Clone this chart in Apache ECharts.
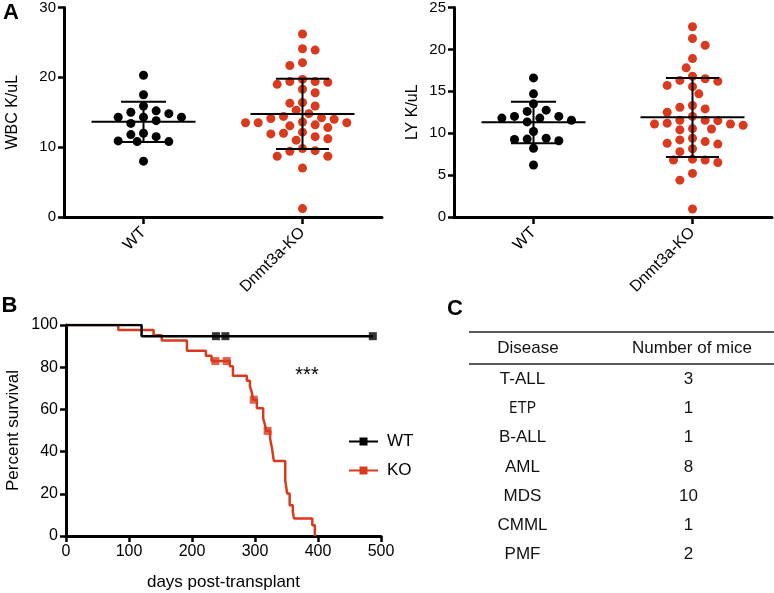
<!DOCTYPE html>
<html><head><meta charset="utf-8">
<script src="https://cdn.jsdelivr.net/npm/echarts@6/dist/echarts.min.js"></script>
<style>html,body{margin:0;padding:0;background:#fff}#c{width:774px;height:593px}</style>
</head><body><div id="c"></div>
<script>
// ---------- DATA ----------
const groups = ['WT', 'Dnmt3a-KO'];
const wbcTicks = [0, 10, 20, 30];
const lyTicks = [0, 5, 10, 15, 20, 25];
const kmYTicks = [0, 20, 40, 60, 80, 100];
const kmXTicks = [0, 100, 200, 300, 400, 500];

const wbcWT = [20.3, 17.5, 15.9, 15.0, 15.2, 14.8, 14.3, 14.3, 14.3, 13.4, 13.8, 12.0, 11.8, 11.5, 10.8, 10.8, 10.9, 8.0];
const wbcKO = [26.2, 24.1, 23.9, 22.1, 21.7, 19.4, 19.0, 19.7, 19.3, 19.4, 17.8, 18.3, 16.3, 16.4, 15.9, 15.3, 14.8, 14.1, 14.0, 14.2, 14.4, 13.5, 13.5, 13.5, 13.6, 13.05, 12.8, 13.2, 12.15, 11.9, 12.0, 11.2, 11.5, 11.0, 9.8, 9.5, 9.4, 8.7, 8.7, 7.0, 1.2];
const wbcMean = [13.65, 14.75];
const wbcSdLow = [10.75, 9.75];
const wbcSdHigh = [16.5, 19.8];

const lyWT = [16.6, 14.7, 13.5, 12.75, 12.6, 12.0, 12.0, 11.8, 11.8, 11.55, 11.35, 10.2, 9.3, 9.1, 9.25, 9.4, 8.2, 6.2];
const lyKO = [22.7, 21.3, 20.5, 18.9, 17.8, 16.8, 16.3, 16.2, 16.5, 15.7, 15.55, 14.7, 13.1, 13.3, 12.5, 12.9, 12.0, 11.55, 11.55, 11.2, 11.1, 11.1, 11.5, 10.55, 10.4, 10.5, 10.95, 9.4, 9.0, 9.2, 8.7, 8.15, 8.8, 7.8, 6.8, 6.5, 6.8, 6.9, 5.2, 4.4, 0.95];
const lyMean = [11.3, 11.9];
const lySdLow = [8.8, 7.15];
const lySdHigh = [13.75, 16.6];

// Kaplan-Meier: event days and survival (%) after each event
const wtDays = [0, 120];
const wtSurv = [100, 94.7];
const wtCensor = [238, 253, 487];
const koDays = [0, 83, 139, 152, 192, 222, 231, 260, 265, 287, 292, 295, 297, 303, 313, 316, 318, 324, 327, 330, 348, 351, 355, 360, 362, 391, 395];
const koSurv = [100, 97.6, 95.1, 92.7, 87.8, 85.4, 82.9, 80.4, 76.0, 73.6, 70.9, 67.9, 64.6, 60.5, 55.7, 52.5, 49.8, 46.2, 41.5, 35.5, 26.4, 20.1, 14.6, 11.4, 8.3, 5.1, 0];
const koCensor = [237, 255, 298, 320];

const tableHeader = ['Disease', 'Number of mice'];
const diseases = ['T-ALL', 'ETP', 'B-ALL', 'AML', 'MDS', 'CMML', 'PMF'];
const mice = [3, 1, 1, 8, 10, 1, 2];

// ---------- STYLE ----------
const FONT = '"Liberation Sans", Arial, Helvetica, sans-serif';
const RED = '#d93a1e';
const BLACK = '#000';

const chart = echarts.init(document.getElementById('c'), null, {renderer: 'canvas'});

function yAxisCfg(grid, ticks, name, gap, fs) {
  return {
    type: 'value', gridIndex: grid,
    min: ticks[0], max: ticks[ticks.length - 1], interval: ticks[1] - ticks[0],
    name: name, nameLocation: 'middle', nameGap: gap,
    nameTextStyle: {fontFamily: FONT, fontSize: fs + 1, color: BLACK},
    axisLine: {show: true, lineStyle: {color: BLACK, width: 3}},
    axisTick: {show: true, length: 6, lineStyle: {color: BLACK, width: 2.5}},
    axisLabel: {fontFamily: FONT, fontSize: fs, color: BLACK, margin: 8},
    splitLine: {show: false}
  };
}
function catAxisCfg(grid) {
  return {
    type: 'category', gridIndex: grid, data: groups, boundaryGap: true,
    axisLine: {show: true, lineStyle: {color: BLACK, width: 3}},
    axisTick: {show: true, alignWithLabel: true, length: 7, lineStyle: {color: BLACK, width: 2.5}},
    axisLabel: {fontFamily: FONT, fontSize: 16, color: BLACK, rotate: 45, margin: 13, interval: 0},
    splitLine: {show: false}
  };
}
function hiddenX(grid) {
  return {type: 'value', gridIndex: grid, min: 0, max: 2, show: false};
}

const base = {
  animation: false,
  backgroundColor: '#fff',
  grid: [
    {left: 64, top: 7, width: 318, height: 210},
    {left: 454, top: 7, width: 318, height: 210},
    {left: 66, top: 325, width: 315, height: 211}
  ],
  xAxis: [
    catAxisCfg(0), hiddenX(0), catAxisCfg(1), hiddenX(1),
    {
      type: 'value', gridIndex: 2,
      min: kmXTicks[0], max: kmXTicks[kmXTicks.length - 1], interval: kmXTicks[1] - kmXTicks[0],
      name: 'days post-transplant', nameLocation: 'middle', nameGap: 38,
      nameTextStyle: {fontFamily: FONT, fontSize: 17, color: BLACK},
      axisLine: {show: true, lineStyle: {color: BLACK, width: 3}},
      axisTick: {show: true, length: 6, lineStyle: {color: BLACK, width: 2.5}},
      axisLabel: {fontFamily: FONT, fontSize: 16, color: BLACK, margin: 8},
      splitLine: {show: false}
    }
  ],
  yAxis: [
    yAxisCfg(0, wbcTicks, 'WBC K/uL', 43, 15),
    yAxisCfg(1, lyTicks, 'LY K/uL', 33, 15),
    yAxisCfg(2, kmYTicks, 'Percent survival', 44, 16)
  ],
  series: []
};
chart.setOption(base);

// beeswarm layout computed from values via the axis scales
function swarm(values, catIdx, xAxisIndex, yAxisIndex) {
  const cx = chart.convertToPixel({xAxisIndex: xAxisIndex}, catIdx + 0.5);
  const step = 6.33, minD = 9.4;
  const pts = values.map(v => ({v: v, y: chart.convertToPixel({yAxisIndex: yAxisIndex}, v)}))
    .sort((a, b) => b.v - a.v);
  const placed = [];
  let flip = 1;
  pts.forEach(p => {
    for (let k = 0; k < 60; k++) {
      const cands = k === 0 ? [0] : [flip * k, -flip * k];
      let got = null;
      for (const c of cands) {
        const x = c * step;
        if (placed.every(q => Math.hypot(q.x - x, q.y - p.y) >= minD)) { got = x; break; }
      }
      if (got !== null) {
        p.x = got; if (got !== 0) flip = -flip; placed.push(p); break;
      }
    }
  });
  return placed.map(p => [chart.convertFromPixel({xAxisIndex: xAxisIndex}, cx + p.x), p.v]);
}

function dotSeries(values, catIdx, xi, yi, color) {
  return {
    type: 'scatter', xAxisIndex: xi, yAxisIndex: yi,
    data: swarm(values, catIdx, xi, yi),
    symbol: 'circle', symbolSize: 9,
    itemStyle: {color: color, opacity: 1},
    z: 2, silent: true
  };
}

const capHalf = [22.5, 26.5];
function errSeries(mean, lo, hi, xi, yi) {
  return {
    type: 'custom', xAxisIndex: xi, yAxisIndex: yi, z: 5, silent: true,
    data: mean.map((m, i) => [i + 0.5, m, lo[i], hi[i]]),
    renderItem: function (params, api) {
      const x = api.value(0);
      const pm = api.coord([x, api.value(1)]);
      const pl = api.coord([x, api.value(2)]);
      const ph = api.coord([x, api.value(3)]);
      const c = capHalf[params.dataIndex];
      const st = {stroke: BLACK, lineWidth: 2};
      return {type: 'group', children: [
        {type: 'line', shape: {x1: pm[0] - 52, y1: pm[1], x2: pm[0] + 52, y2: pm[1]}, style: st},
        {type: 'line', shape: {x1: ph[0], y1: ph[1], x2: pl[0], y2: pl[1]}, style: st},
        {type: 'line', shape: {x1: ph[0] - c, y1: ph[1], x2: ph[0] + c, y2: ph[1]}, style: st},
        {type: 'line', shape: {x1: pl[0] - c, y1: pl[1], x2: pl[0] + c, y2: pl[1]}, style: st}
      ]};
    }
  };
}

function kmLine(days, surv, censor) {
  const d = days.map((t, i) => [t, surv[i]]);
  const lastC = Math.max.apply(null, censor);
  if (lastC > days[days.length - 1]) d.push([lastC, surv[surv.length - 1]]);
  return d;
}
function survAt(days, surv, t) {
  let s = surv[0];
  for (let i = 0; i < days.length; i++) if (days[i] <= t) s = surv[i];
  return s;
}

const kmSeries = [
  {name: 'WT', type: 'line', step: 'end', xAxisIndex: 4, yAxisIndex: 2,
   data: kmLine(wtDays, wtSurv, wtCensor), showSymbol: false, symbol: 'rect', symbolSize: 8,
   lineStyle: {color: BLACK, width: 2.5}, itemStyle: {color: BLACK}, z: 4, silent: true},
  {name: 'KO', type: 'line', step: 'end', xAxisIndex: 4, yAxisIndex: 2,
   data: kmLine(koDays, koSurv, koCensor), showSymbol: false, symbol: 'rect', symbolSize: 8,
   lineStyle: {color: RED, width: 2.5}, itemStyle: {color: RED}, z: 3, silent: true},
  {name: 'WT', type: 'scatter', xAxisIndex: 4, yAxisIndex: 2, symbol: 'rect', symbolSize: 8,
   data: wtCensor.map(t => [t, survAt(wtDays, wtSurv, t)]), itemStyle: {color: BLACK}, z: 6, silent: true},
  {name: 'KO', type: 'scatter', xAxisIndex: 4, yAxisIndex: 2, symbol: 'rect', symbolSize: 8,
   data: koCensor.map(t => [t, survAt(koDays, koSurv, t)]), itemStyle: {color: RED}, z: 6, silent: true}
];

// table graphics
const tableG = [];
const tLeft = 469, tRight = 774;
tableG.push({type: 'line', shape: {x1: tLeft, y1: 332, x2: tRight, y2: 332}, style: {stroke: '#222', lineWidth: 1.6}});
tableG.push({type: 'line', shape: {x1: tLeft, y1: 364, x2: tRight, y2: 364}, style: {stroke: '#222', lineWidth: 1.6}});
const colX = [528, 692];
tableHeader.forEach((h, i) => tableG.push({type: 'text', x: colX[i], y: 348,
  style: {text: h, fontFamily: FONT, fontSize: 17, fill: '#111', textAlign: 'center', textVerticalAlign: 'middle'}}));
diseases.forEach((d, i) => {
  const y = 379.3 + i * 29.2;
  const special = d === 'ETP';
  tableG.push({type: 'text', x: 522.5, y: y,
    style: {text: d, fontFamily: special ? '"Open Sans", "Noto Sans", sans-serif' : FONT, fontSize: special ? 16 : 17,
      fill: '#111', textAlign: 'center', textVerticalAlign: 'middle'}});
  tableG.push({type: 'text', x: 688.5, y: y,
    style: {text: String(mice[i]), fontFamily: FONT, fontSize: 17, fill: '#111', textAlign: 'center', textVerticalAlign: 'middle'}});
});

const labels = [
  {type: 'text', x: 11, y: 13, style: {text: 'A', fontFamily: FONT, fontWeight: 'bold', fontSize: 22, fill: BLACK, textAlign: 'center', textVerticalAlign: 'middle'}},
  {type: 'text', x: 9.5, y: 306, style: {text: 'B', fontFamily: FONT, fontWeight: 'bold', fontSize: 22, fill: BLACK, textAlign: 'center', textVerticalAlign: 'middle'}},
  {type: 'text', x: 455, y: 308.5, style: {text: 'C', fontFamily: FONT, fontWeight: 'bold', fontSize: 22, fill: BLACK, textAlign: 'center', textVerticalAlign: 'middle'}},
  {type: 'text', x: 307, y: 375, style: {text: '***', fontFamily: FONT, fontSize: 20, fill: BLACK, textAlign: 'center', textVerticalAlign: 'middle'}}
];

chart.setOption({
  legend: {
    data: ['WT', 'KO'], orient: 'vertical', left: 343, top: 428,
    itemWidth: 29, itemHeight: 10, itemGap: 12, selectedMode: false,
    textStyle: {fontFamily: FONT, fontSize: 17, color: BLACK, padding: [0, 0, 0, 4]}
  },
  series: [
    dotSeries(wbcWT, 0, 1, 0, BLACK), dotSeries(wbcKO, 1, 1, 0, RED),
    errSeries(wbcMean, wbcSdLow, wbcSdHigh, 1, 0),
    dotSeries(lyWT, 0, 3, 1, BLACK), dotSeries(lyKO, 1, 3, 1, RED),
    errSeries(lyMean, lySdLow, lySdHigh, 3, 1)
  ].concat(kmSeries),
  graphic: tableG.concat(labels)
});
</script></body></html>
